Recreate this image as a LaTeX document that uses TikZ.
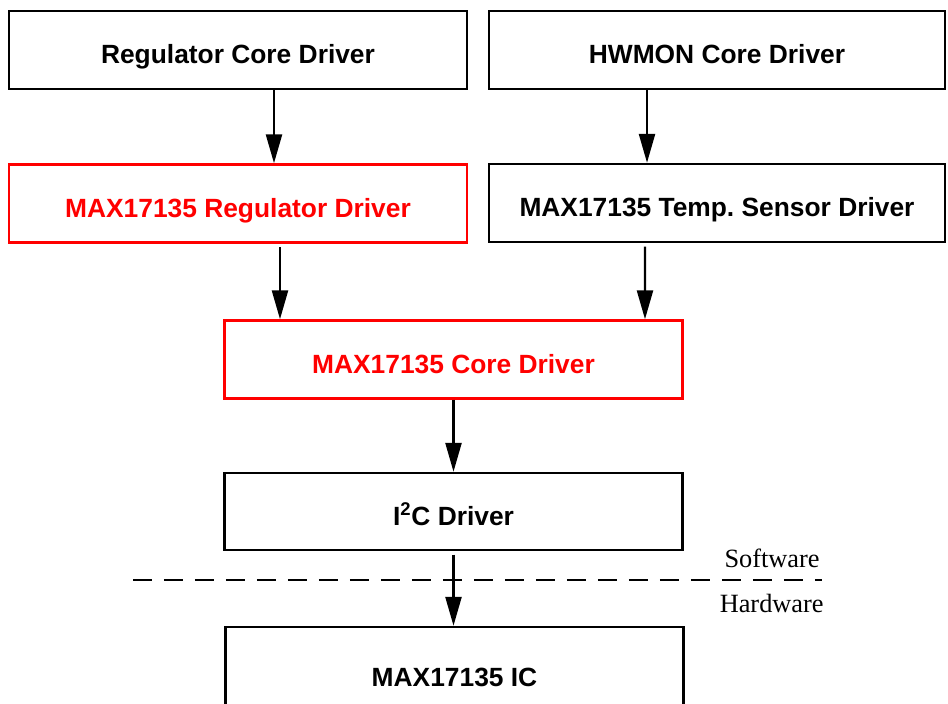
\documentclass[tikz,border=0pt]{standalone}
\usepackage{fontspec}
\setmainfont{Liberation Serif}
\setsansfont{Liberation Sans}
\usetikzlibrary{arrows.meta}

\tikzset{
    drvbox/.style = {rectangle,
                     draw,
                     line width = 1.4pt,
                     inner sep = 0pt,
                     minimum width = 9.16cm,
                     minimum height = 1.56cm,
                     text height = 15.4pt,
                     text depth = 0pt,
                     font = \fontsize{15}{18}\selectfont\sffamily\bfseries},
    redbox/.style = {drvbox, draw = red, text = red},
    layertxt/.style = {font = \fontsize{15}{18}\selectfont, inner sep = 0pt, anchor = east}
}

\begin{document}
\begin{tikzpicture}[x=0.02cm, y=-0.02cm, ->, >={Triangle[length=5.8mm,width=3.2mm]}]

    \useasboundingbox (0,0) rectangle (948,704);

    \node[drvbox] (regcore) at (238,50) {Regulator Core Driver};
    \node[drvbox,
          minimum width = 9.12cm
          ] (hwmon) at (717,50) {HWMON Core Driver};

    \node[redbox] (regdrv) at (238,203.5) {MAX17135 Regulator Driver};
    \node[drvbox,
          minimum width = 9.12cm
          ] (tempdrv) at (717,203) {MAX17135 Temp.\ Sensor Driver};

    \node[redbox] (coredrv) at (453.5,359.5) {MAX17135 Core Driver};

    \node[drvbox,
          minimum height = 1.54cm
          ] (i2c) at (453.5,511.5) {I\textsuperscript{2}C Driver};

    \node[drvbox,
          minimum height = 1.84cm
          ] (ic) at (454.5,673) {MAX17135 IC};

    % software / hardware split
    \coordinate (splitl) at (133,580);
    \coordinate (splitr) at (822,580);
    \draw[-, line width = 1.4pt, dash pattern = on 0.38cm off 0.24cm] (splitl) -- (splitr);
    \node[layertxt] (sw) at (820,558) {Software};
    \node[layertxt] (hw) at (824,603) {Hardware};

    \path
    (regcore.south) ++(36,0) coordinate (a1)
    (regdrv.north) ++(36,0) coordinate (a2)
    (regdrv.south) ++(42,0) coordinate (b1)
    (coredrv.north) ++(-173.5,0) coordinate (b2)
    (tempdrv.south) ++(-72,0) coordinate (c1)
    (coredrv.north) ++(191.5,0) coordinate (c2);

    \draw[line width = 1.4pt] (a1) -- (a2);
    \draw[line width = 1.4pt] ([xshift=-1.4cm]hwmon.south) -- ([xshift=-1.4cm]tempdrv.north);
    \draw[line width = 1.4pt, shorten < = 2pt] (b1) -- (b2);
    \draw[line width = 1.4pt, shorten < = 2pt] (c1) -- (c2);
    \draw[line width = 1.4pt] (coredrv.south) -- (i2c.north);
    \draw[line width = 1.4pt, shorten < = 2pt] (i2c.south) -- (i2c.south |- ic.north);

\end{tikzpicture}
\end{document}
